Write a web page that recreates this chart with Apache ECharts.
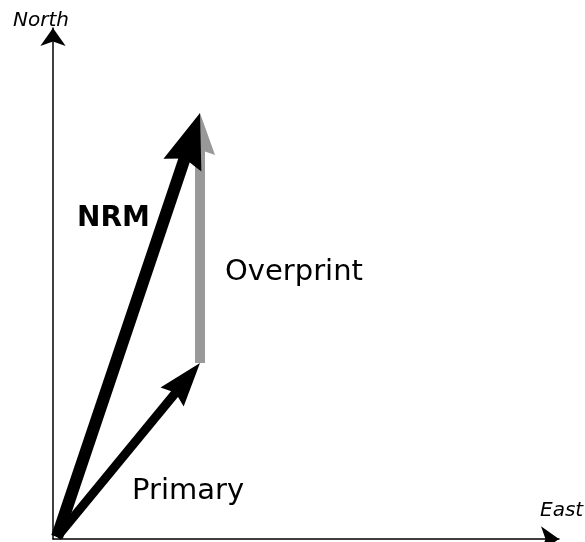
<!DOCTYPE html>
<html><head><meta charset="utf-8">
<script src="https://cdn.jsdelivr.net/npm/echarts@6/dist/echarts.min.js"></script>
<style>html,body{margin:0;padding:0;background:#fff}#c{width:585px;height:542px}</style>
</head><body><div id="c"></div>
<script>
// Vector components (data units, equal scale on both axes)
const origin = [0, 0];
const primary = [14.3, 17.4];
const overprint = [0, 25.0];
const nrm = [14.3, 42.4];
const axisNames = ['North', 'East'];
const vectorNames = ['Primary', 'Overprint', 'NRM'];

const PX_PER_UNIT = 10;
const HEAD = 'path://M0,0L10,24L0,21L-10,24Z';
function add(a, b) { return [a[0] + b[0], a[1] + b[1]]; }
// point on the vector, backPx pixels before its tip
function backFromTip(from, vec, backPx) {
  const len = Math.hypot(vec[0], vec[1]);
  const k = 1 - (backPx / PX_PER_UNIT) / len;
  return [from[0] + vec[0] * k, from[1] + vec[1] * k];
}
function vectorSeries(name, from, vec, color, width, head) {
  return [
    {
      name: name, type: 'lines', coordinateSystem: 'cartesian2d', silent: true,
      symbol: ['none', 'none'],
      lineStyle: {color: color, width: width, opacity: 1, curveness: 0, cap: 'butt'},
      data: [{coords: [from, backFromTip(from, vec, head[1] * 0.7)]}]
    },
    {
      // head symbol is centred on the line end, so end the guide line half a head before the tip
      name: name + ' head', type: 'lines', coordinateSystem: 'cartesian2d', silent: true,
      symbol: ['none', HEAD], symbolSize: [0, head],
      lineStyle: {color: color, width: 1, opacity: 1, curveness: 0},
      data: [{coords: [from, backFromTip(from, vec, head[1] / 2)]}]
    }
  ];
}

const chart = echarts.init(document.getElementById('c'), null, {renderer: 'canvas'});
const font = 'DejaVu Sans';
chart.setOption({
  animation: false,
  backgroundColor: '#ffffff',
  grid: {left: 53, right: 26, top: 28, bottom: 3},
  xAxis: {
    type: 'value', min: -0.4, max: 50.2,
    axisLine: {show: true, onZero: false, symbol: ['none', 'arrow'], symbolSize: [19, 18],
      lineStyle: {color: '#000', width: 1.5}},
    axisTick: {show: false}, axisLabel: {show: false}, splitLine: {show: false}
  },
  yAxis: {
    type: 'value', min: -0.2, max: 50.9,
    axisLine: {show: true, onZero: false, symbol: ['none', 'arrow'], symbolSize: [19, 18],
      lineStyle: {color: '#000', width: 1.5}},
    axisTick: {show: false}, axisLabel: {show: false}, splitLine: {show: false}
  },
  series: [].concat(
    vectorSeries(vectorNames[1], add(origin, primary), overprint, '#999999', 10, [30, 42]),
    vectorSeries(vectorNames[2], origin, nrm, '#000000', 12, [40, 55]),
    vectorSeries(vectorNames[0], origin, primary, '#000000', 9, [30, 44])
  ),
  graphic: [
    {type: 'text', x: 13, y: 11, style: {text: axisNames[0], font: 'italic 20px "' + font + '"', fill: '#000'}},
    {type: 'text', x: 540, y: 501, style: {text: axisNames[1], font: 'italic 20px "' + font + '"', fill: '#000'}},
    {type: 'text', x: 77, y: 205, style: {text: vectorNames[2], font: 'bold 28px "' + font + '"', fill: '#000'}},
    {type: 'text', x: 225, y: 258, style: {text: vectorNames[1], font: '29px "' + font + '"', fill: '#000'}},
    {type: 'text', x: 132, y: 477, style: {text: vectorNames[0], font: '29px "' + font + '"', fill: '#000'}}
  ]
});
</script></body></html>
